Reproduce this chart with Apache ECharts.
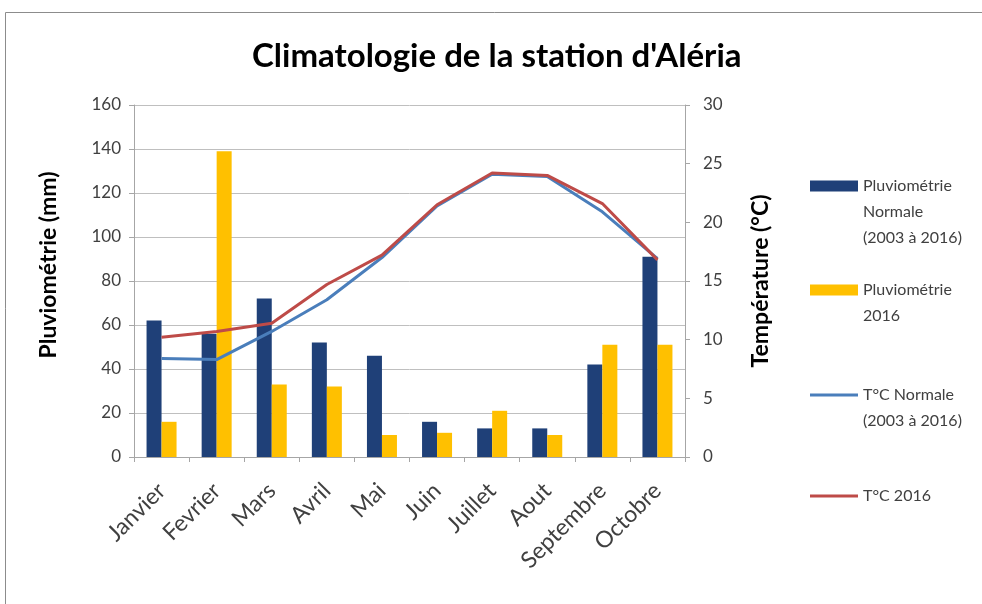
<!DOCTYPE html>
<html>
<head>
<meta charset="utf-8">
<script src="https://cdn.jsdelivr.net/npm/echarts@6/dist/echarts.min.js"></script>
<style>
html,body{margin:0;padding:0;background:#fff;}
#chart{width:982px;height:604px;}
</style>
</head>
<body>
<div id="chart"></div>
<script>
const categories = ['Janvier','Fevrier','Mars','Avril','Mai','Juin','Juillet','Aout','Septembre','Octobre'];
const pluieNormale = [62, 56, 72, 52, 46, 16, 13, 13, 42, 91];
const pluie2016 = [16, 139, 33, 32, 10, 11, 21, 10, 51, 51];
const tempNormale = [8.4, 8.3, 10.7, 13.4, 17.0, 21.4, 24.1, 23.9, 20.9, 16.9];
const temp2016 = [10.2, 10.7, 11.4, 14.7, 17.2, 21.5, 24.2, 24.0, 21.6, 16.8];
const names = ['Pluviométrie\nNormale\n(2003 à 2016)', 'Pluviométrie\n2016', 'T°C Normale\n(2003 à 2016)', 'T°C 2016'];

const FONT = 'Lato';
const txt = '#404040';
const LH = 26;
const LINE_ICON = 'path://M0,0h48v3h-48z';

function legendFor(name, iconY, icon) {
  const n = name.split('\n').length;
  const pre = '\n'.repeat(n - 1);
  return {
    orient: 'vertical', left: 810, top: iconY - (2 * n - 1) * LH / 2, padding: 0,
    itemWidth: 48, itemHeight: 11, itemGap: 0,
    selectedMode: false,
    formatter: function (nm) { return pre + nm; },
    textStyle: { fontFamily: FONT, fontSize: 16, lineHeight: LH, color: txt },
    data: [{ name: name, icon: icon }]
  };
}

const chart = echarts.init(document.getElementById('chart'), null, { renderer: 'canvas' });
chart.setOption({
  backgroundColor: '#fff',
  animation: false,
  graphic: [{
    type: 'rect', shape: { x: 5.5, y: 12.5, width: 1000, height: 620 },
    style: { fill: 'none', stroke: '#8c8c8c', lineWidth: 1 }, silent: true
  }],
  title: {
    text: "Climatologie de la station d'Aléria",
    left: 252, top: 40, padding: 0,
    textStyle: { fontFamily: FONT, fontSize: 33, fontWeight: 'bold', color: '#000' }
  },
  legend: [
    legendFor(names[0], 186, 'rect'),
    legendFor(names[1], 290, 'rect'),
    legendFor(names[2], 395, LINE_ICON),
    legendFor(names[3], 496, LINE_ICON)
  ],
  grid: { left: 134, right: 297, top: 105, bottom: 147, containLabel: false },
  xAxis: {
    type: 'category', data: categories,
    axisLine: { show: true, lineStyle: { color: '#a6a6a6', width: 1 } },
    axisTick: { show: true, length: 5, lineStyle: { color: '#a6a6a6' } },
    axisLabel: { rotate: 45, fontFamily: FONT, fontSize: 23, color: txt, margin: 30, interval: 0 }
  },
  yAxis: [{
    type: 'value', min: 0, max: 160, interval: 20, position: 'left',
    name: 'Pluviométrie (mm)', nameLocation: 'middle', nameGap: 74, nameRotate: 90,
    nameTextStyle: { fontFamily: FONT, fontSize: 23, fontWeight: 'bold', color: '#000', padding: [0, 0, 0, 32] },
    axisLine: { show: true, lineStyle: { color: '#a6a6a6' } },
    axisTick: { show: true, length: 5, lineStyle: { color: '#a6a6a6' } },
    axisLabel: { fontFamily: FONT, fontSize: 17, color: txt, margin: 13 },
    splitLine: { show: true, lineStyle: { color: '#bfbfbf', width: 1 } }
  }, {
    type: 'value', min: 0, max: 30, interval: 5, position: 'right',
    name: 'Température (°C)', nameLocation: 'middle', nameGap: 64, nameRotate: 90,
    nameTextStyle: { fontFamily: FONT, fontSize: 23, fontWeight: 'bold', color: '#000' },
    axisLine: { show: true, lineStyle: { color: '#a6a6a6' } },
    axisTick: { show: true, length: 5, lineStyle: { color: '#a6a6a6' } },
    axisLabel: { fontFamily: FONT, fontSize: 17, color: txt, margin: 18 },
    splitLine: { show: false }
  }],
  series: [{
    name: names[0], type: 'bar', data: pluieNormale, barWidth: 15, barGap: '0%',
    itemStyle: { color: '#1f4078' }
  }, {
    name: names[1], type: 'bar', data: pluie2016, barWidth: 15, barGap: '0%',
    itemStyle: { color: '#ffc000' }
  }, {
    name: names[2], type: 'line', yAxisIndex: 1, data: tempNormale, symbol: 'none',
    lineStyle: { color: '#4a7ebb', width: 3 }, itemStyle: { color: '#4a7ebb' }
  }, {
    name: names[3], type: 'line', yAxisIndex: 1, data: temp2016, symbol: 'none',
    lineStyle: { color: '#be4b48', width: 3 }, itemStyle: { color: '#be4b48' }
  }]
});
</script>
</body>
</html>
